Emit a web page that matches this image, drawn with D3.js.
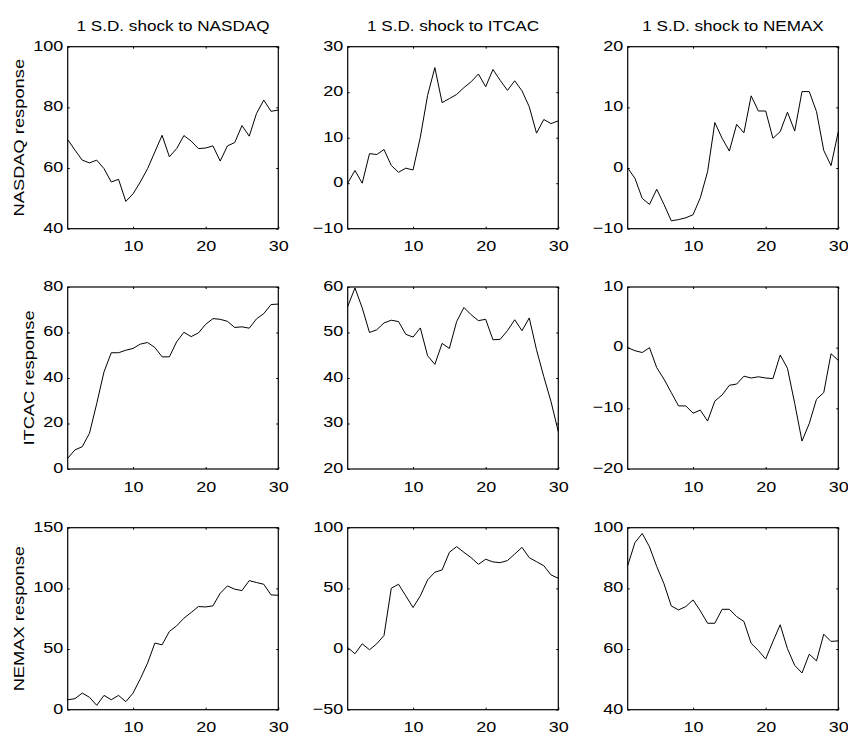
<!DOCTYPE html>
<html>
<head>
<meta charset="utf-8">
<script src="https://cdn.jsdelivr.net/npm/d3@7"></script>
<style>
  body { margin: 0; background: #fff; }
  svg { display: block; }
  text { font-family: "Liberation Sans", Arial, Helvetica, sans-serif; font-size: 15px; fill: #000; }
</style>
</head>
<body>
<div id="graph"></div>
<script>
// impulse responses, horizon 1..30
var horizon = [1,2,3,4,5,6,7,8,9,10,11,12,13,14,15,16,17,18,19,20,21,22,23,24,25,26,27,28,29,30];

var shockNames = ["NASDAQ", "ITCAC", "NEMAX"];
var responseNames = ["NASDAQ", "ITCAC", "NEMAX"];

// row = responding index, col = shocked index
var nasdaqToNasdaq = [69.4,65.9,62.6,61.7,62.6,59.8,55.4,56.3,49.0,51.5,55.4,59.8,65.3,70.8,63.7,66.4,70.7,68.9,66.4,66.6,67.3,62.3,67.3,68.4,74.0,70.5,78.0,82.4,78.7,79.1];
var nasdaqToItcac = [0.0,2.8,0.0,6.5,6.3,7.4,3.9,2.4,3.3,2.9,10.1,19.3,25.4,17.7,18.6,19.5,21.0,22.3,24.0,21.2,25.0,22.6,20.4,22.5,20.3,16.8,11.0,14.0,13.1,13.7];
var nasdaqToNemax = [0.0,-1.7,-5.0,-6.0,-3.5,-6.0,-8.7,-8.5,-8.2,-7.7,-4.9,-0.6,7.5,4.9,2.8,7.2,5.8,11.9,9.4,9.4,4.9,6.0,9.2,6.1,12.6,12.6,9.3,2.9,0.4,6.0];
var itcacToNasdaq = [4.7,8.4,9.8,15.7,28.8,42.7,51.1,51.1,52.2,53.0,54.9,55.6,53.4,49.3,49.3,55.9,60.1,58.2,59.8,63.6,66.1,65.8,64.9,62.2,62.5,61.9,66.0,68.3,72.3,72.5];
var itcacToItcac = [55.7,59.8,55.4,50.0,50.6,52.1,52.7,52.4,49.6,49.0,51.0,44.9,43.0,47.6,46.5,52.4,55.5,53.9,52.6,52.9,48.4,48.5,50.4,52.8,50.4,53.2,46.2,40.3,34.8,28.2];
var itcacToNemax = [0.0,-0.5,-0.8,0.0,-3.3,-5.2,-7.4,-9.6,-9.6,-10.8,-10.3,-12.1,-8.8,-7.8,-6.2,-6.0,-4.7,-5.0,-4.8,-5.0,-5.1,-1.2,-3.4,-9.2,-15.4,-12.5,-8.5,-7.4,-1.0,-2.1];
var nemaxToNasdaq = [8.2,9.1,13.7,10.2,3.6,11.8,8.2,11.8,6.6,13.7,25.5,38.4,54.9,53.5,64.5,69.1,75.4,80.1,85.0,84.7,85.6,96.0,102.0,99.3,98.2,106.4,104.8,103.4,94.6,94.3];
var nemaxToItcac = [1.3,-3.9,4.3,-0.6,4.3,11.2,50.1,53.4,43.8,34.2,43.8,57.0,63.3,65.2,79.7,84.4,79.7,75.3,69.8,74.0,71.8,71.2,72.9,78.3,83.8,75.3,72.0,68.7,61.1,58.3];
var nemaxToNemax = [87.5,95.1,98.1,93.7,87.2,81.5,74.2,72.9,74.0,76.2,72.6,68.5,68.5,73.1,73.1,70.7,69.1,61.9,59.5,56.7,62.5,68.0,60.1,54.6,52.1,58.3,56.1,64.9,62.5,62.7];

var yDomains = [[40,100],[-10,30],[-10,20],[0,80],[20,60],[-20,10],[0,150],[-50,100],[40,100]];
var yTicks = [[40,60,80,100],[-10,0,10,20,30],[-10,0,10,20],[0,20,40,60,80],[20,30,40,50,60],[-20,-10,0,10],[0,50,100,150],[-50,0,50,100],[40,60,80,100]];
var xTicks = [10,20,30];

var series = [nasdaqToNasdaq, nasdaqToItcac, nasdaqToNemax,
              itcacToNasdaq, itcacToItcac, itcacToNemax,
              nemaxToNasdaq, nemaxToItcac, nemaxToNemax];

var svgWidth = 848, svgHeight = 735;
var colLeft = [67.7, 347.7, 627.7];
var rowTop = [46.7, 287, 527.7];
var plotW = 210.6, plotH = 182;
var tickStretch = 1.2, titleStretch = 1.14, labelStretch = 1.22;

var svg = d3.select("#graph").append("svg")
	.attr("width", svgWidth)
	.attr("height", svgHeight);

var fmt = d3.format("d");

function drawPanel(r, c) {
	var k = r * 3 + c;
	var x0 = colLeft[c], y0 = rowTop[r];

	var xScale = d3.scaleLinear().domain([1, 30]).range([x0, x0 + plotW]);
	var yScale = d3.scaleLinear().domain(yDomains[k]).range([y0 + plotH, y0]);

	var g = svg.append("g");

	// bottom axis with labels
	g.append("g")
		.attr("transform", "translate(0," + (y0 + plotH) + ")")
		.call(d3.axisBottom(xScale).tickValues(xTicks).tickFormat(fmt).tickSize(-2).tickSizeOuter(0).tickPadding(12))
		.call(function(a) { a.select(".domain").remove(); })
		.selectAll("text").attr("transform", "scale(" + tickStretch + ",1)");

	// top axis, ticks only
	g.append("g")
		.attr("transform", "translate(0," + y0 + ")")
		.call(d3.axisTop(xScale).tickValues(xTicks).tickFormat("").tickSize(-2).tickSizeOuter(0))
		.call(function(a) { a.select(".domain").remove(); });

	// left axis with labels
	var leftAxis = g.append("g")
		.attr("transform", "translate(" + x0 + ",0)")
		.call(d3.axisLeft(yScale).tickValues(yTicks[k]).tickFormat(fmt).tickSize(-2).tickSizeOuter(0).tickPadding(3.8))
		.call(function(a) { a.select(".domain").remove(); });
	leftAxis.selectAll("text")
		.attr("dy", "0.22em")
		.attr("transform", "scale(" + tickStretch + ",1)");

	// right axis, ticks only
	g.append("g")
		.attr("transform", "translate(" + (x0 + plotW) + ",0)")
		.call(d3.axisRight(yScale).tickValues(yTicks[k]).tickFormat("").tickSize(-2).tickSizeOuter(0))
		.call(function(a) { a.select(".domain").remove(); });

	// box
	g.append("rect")
		.attr("x", x0)
		.attr("y", y0)
		.attr("width", plotW)
		.attr("height", plotH)
		.style("fill", "none")
		.style("stroke", "#000")
		.style("stroke-width", 1.2);

	var lineGenerator = d3.line()
		.x(function(d, i) { return xScale(horizon[i]); })
		.y(function(d) { return yScale(d); });

	g.append("path")
		.attr("d", lineGenerator(series[k]))
		.style("fill", "none")
		.style("stroke", "#000")
		.style("stroke-width", 1);

	// column titles
	if (r == 0) {
		g.append("text")
			.attr("text-anchor", "middle")
			.attr("transform", "translate(" + (x0 + plotW / 2) + "," + (y0 - 15.7) + ") scale(" + titleStretch + ",1)")
			.text("1 S.D. shock to " + shockNames[c]);
	}

	// row labels, placed just left of the widest tick label
	if (c == 0) {
		var minX = d3.min(leftAxis.selectAll("text").nodes(), function(n) { return n.getBoundingClientRect().left; });
		g.append("text")
			.attr("text-anchor", "middle")
			.attr("transform", "translate(" + (minX - 9.3) + "," + (y0 + plotH / 2) + ") rotate(-90) scale(" + labelStretch + ",1)")
			.text(responseNames[r] + " response");
	}
}

for (var r = 0; r < 3; r++) {
	for (var c = 0; c < 3; c++) {
		drawPanel(r, c);
	}
}
</script>
</body>
</html>
